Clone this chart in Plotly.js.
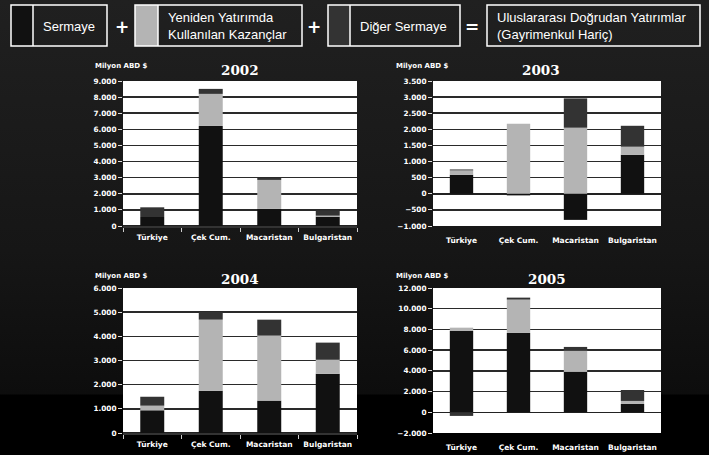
<!DOCTYPE html>
<html><head><meta charset="utf-8">
<script src="https://cdn.plot.ly/plotly-3.0.1.min.js"></script>
<style>
html,body{margin:0;padding:0;}
body{width:709px;height:455px;overflow:hidden;background:linear-gradient(to bottom,#202020 0px,#161616 250px,#0d0d0d 394px,#000 395px,#000 455px);}
#chart{width:709px;height:455px;}
</style></head><body>
<div id="chart"></div>
<script>
const categories = ['Türkiye','Çek Cum.','Macaristan','Bulgaristan'];
const seriesNames = ['Sermaye','Yeniden Yatırımda Kullanılan Kazançlar','Diğer Sermaye'];
const years = ['2002','2003','2004','2005'];

const equity2002 = [560, 6210, 1060, 580];
const reinvested2002 = [0, 1990, 1800, 60];
const other2002 = [600, 310, 120, 330];

const equity2003 = [590, -50, -810, 1210];
const reinvested2003 = [135, 2170, 2050, 250];
const other2003 = [30, 0, 910, 650];

const equity2004 = [940, 1750, 1340, 2455];
const reinvested2004 = [190, 2940, 2690, 575];
const other2004 = [370, 320, 660, 710];

const equity2005 = [7850, 7660, 3895, 805];
const reinvested2005 = [320, 3220, 2060, 290];
const other2005 = [-350, 190, 355, 1060];

const yRanges = [[0,9000],[-1000,3500],[0,6000],[-2000,12000]];
const yDticks = [1000,500,1000,2000];

const data2 = [
  [equity2002, reinvested2002, other2002],
  [equity2003, reinvested2003, other2003],
  [equity2004, reinvested2004, other2004],
  [equity2005, reinvested2005, other2005]
];
const colors = ['#111111','#b4b4b4','#333333'];

const W = 709, H = 455;
const px = x => x / W;
const py = y => 1 - y / H;

// plot areas in pixels [x0,x1,yTop,yBottom]
const areas = [[123,357,81,226],[433,661,81,226],[123,357,288,433],[433,661,288,433]];

const traces = [];
const layout = {
  width: W, height: H,
  margin: {l:0,r:0,t:0,b:0},
  paper_bgcolor: 'rgba(0,0,0,0)',
  plot_bgcolor: '#ffffff',
  barmode: 'relative',
  bargap: 0.59,
  showlegend: false,
  separators: ',.',
  font: {family: 'DejaVu Sans', color: '#ffffff'},
  shapes: [], annotations: []
};

for (let i = 0; i < 4; i++) {
  const xa = i === 0 ? 'x' : 'x' + (i+1);
  const ya = i === 0 ? 'y' : 'y' + (i+1);
  for (let s = 0; s < 3; s++) {
    traces.push({
      type: 'bar', x: categories, y: data2[i][s], name: seriesNames[s],
      xaxis: xa, yaxis: ya,
      marker: {color: colors[s], line: {width: 0}}
    });
  }
  const a = areas[i];
  const hasNeg = yRanges[i][0] < 0;
  layout[i === 0 ? 'xaxis' : 'xaxis' + (i+1)] = {
    domain: [px(a[0]), px(a[1])],
    anchor: ya,
    type: 'category',
    categoryarray: categories,
    showline: !hasNeg, linecolor: '#333333', linewidth: 1.5,
    ticks: hasNeg ? '' : 'outside', tickson: 'boundaries', ticklen: 4, tickcolor: '#cccccc', tickwidth: 1,
    ticklabelstandoff: hasNeg ? 8 : 3,
    tickfont: {family: 'DejaVu Sans', size: 7.5, color: '#ffffff', weight: 'bold'},
    showgrid: false, fixedrange: true
  };
  layout[i === 0 ? 'yaxis' : 'yaxis' + (i+1)] = {
    domain: [py(a[3]), py(a[2])],
    anchor: xa,
    range: yRanges[i], dtick: yDticks[i], tick0: 0,
    tickformat: ',d',
    showgrid: true, gridcolor: '#2a2a2a', gridwidth: 1.5,
    zeroline: true, zerolinecolor: '#222222', zerolinewidth: 1.5,
    showline: false,
    ticks: 'outside', ticklen: 4, tickcolor: '#dddddd', tickwidth: 1,
    tickfont: {family: 'DejaVu Sans', size: 7.3, color: '#ffffff', weight: 'bold'},
    fixedrange: true
  };
}

// chart titles and unit labels
const titlePos = [[240,70],[541,70],[240,279],[547,279]];
const unitPos = [[93,66],[394,66],[93,276],[394,276]];
for (let i = 0; i < 4; i++) {
  layout.annotations.push({
    xref:'paper', yref:'paper', x: px(titlePos[i][0]), y: py(titlePos[i][1]),
    xanchor:'center', yanchor:'middle', showarrow:false, text: years[i],
    font:{family:'DejaVu Serif', size:13.5, color:'#ffffff', weight:'bold'}
  });
  layout.annotations.push({
    xref:'paper', yref:'paper', x: px(unitPos[i][0]), y: py(unitPos[i][1]),
    xanchor:'left', yanchor:'middle', showarrow:false, text: 'Milyon ABD $',
    font:{family:'DejaVu Sans', size:7, color:'#ffffff', weight:'bold'}
  });
}

// legend-like header boxes
const boxes = [
  {x0:11, x1:107, sw:33, color: colors[0], lines:['Sermaye'], tx:41},
  {x0:135, x1:302, sw:158, color: colors[1], lines:['Yeniden Yatırımda','Kullanılan Kazançlar'], tx:166},
  {x0:328, x1:460, sw:350, color: colors[2], lines:['Diğer Sermaye'], tx:358},
  {x0:487, x1:700, sw:null, color: null, lines:['Uluslararası Doğrudan Yatırımlar','(Gayrimenkul Hariç)'], tx:495}
];
const by0 = 5, by1 = 46;
boxes.forEach(b => {
  if (b.sw) {
    layout.shapes.push({type:'rect', xref:'paper', yref:'paper', x0:px(b.x0), x1:px(b.sw), y0:py(by1), y1:py(by0),
      fillcolor:b.color, line:{width:0}});
    layout.shapes.push({type:'line', xref:'paper', yref:'paper', x0:px(b.sw), x1:px(b.sw), y0:py(by1), y1:py(by0),
      line:{color:'#ffffff', width:1.5}});
  }
  layout.shapes.push({type:'rect', xref:'paper', yref:'paper', x0:px(b.x0), x1:px(b.x1), y0:py(by1), y1:py(by0),
    line:{color:'#ffffff', width:1.5}});
  layout.annotations.push({xref:'paper', yref:'paper', x:px(b.tx), y:py(26), xanchor:'left', yanchor:'middle',
    showarrow:false, align:'left', text: b.lines.join('<br>'),
    font:{family:'Liberation Sans', size:13, color:'#ffffff'}});
});
[['+',122],['+',314],['=',472]].forEach(o => {
  layout.annotations.push({xref:'paper', yref:'paper', x:px(o[1]), y:py(27), xanchor:'center', yanchor:'middle',
    showarrow:false, text:o[0], font:{family:'DejaVu Sans', size:17, color:'#ffffff', weight:'bold'}});
});

Plotly.newPlot('chart', traces, layout, {displayModeBar:false, staticPlot:true});
</script>
</body></html>
